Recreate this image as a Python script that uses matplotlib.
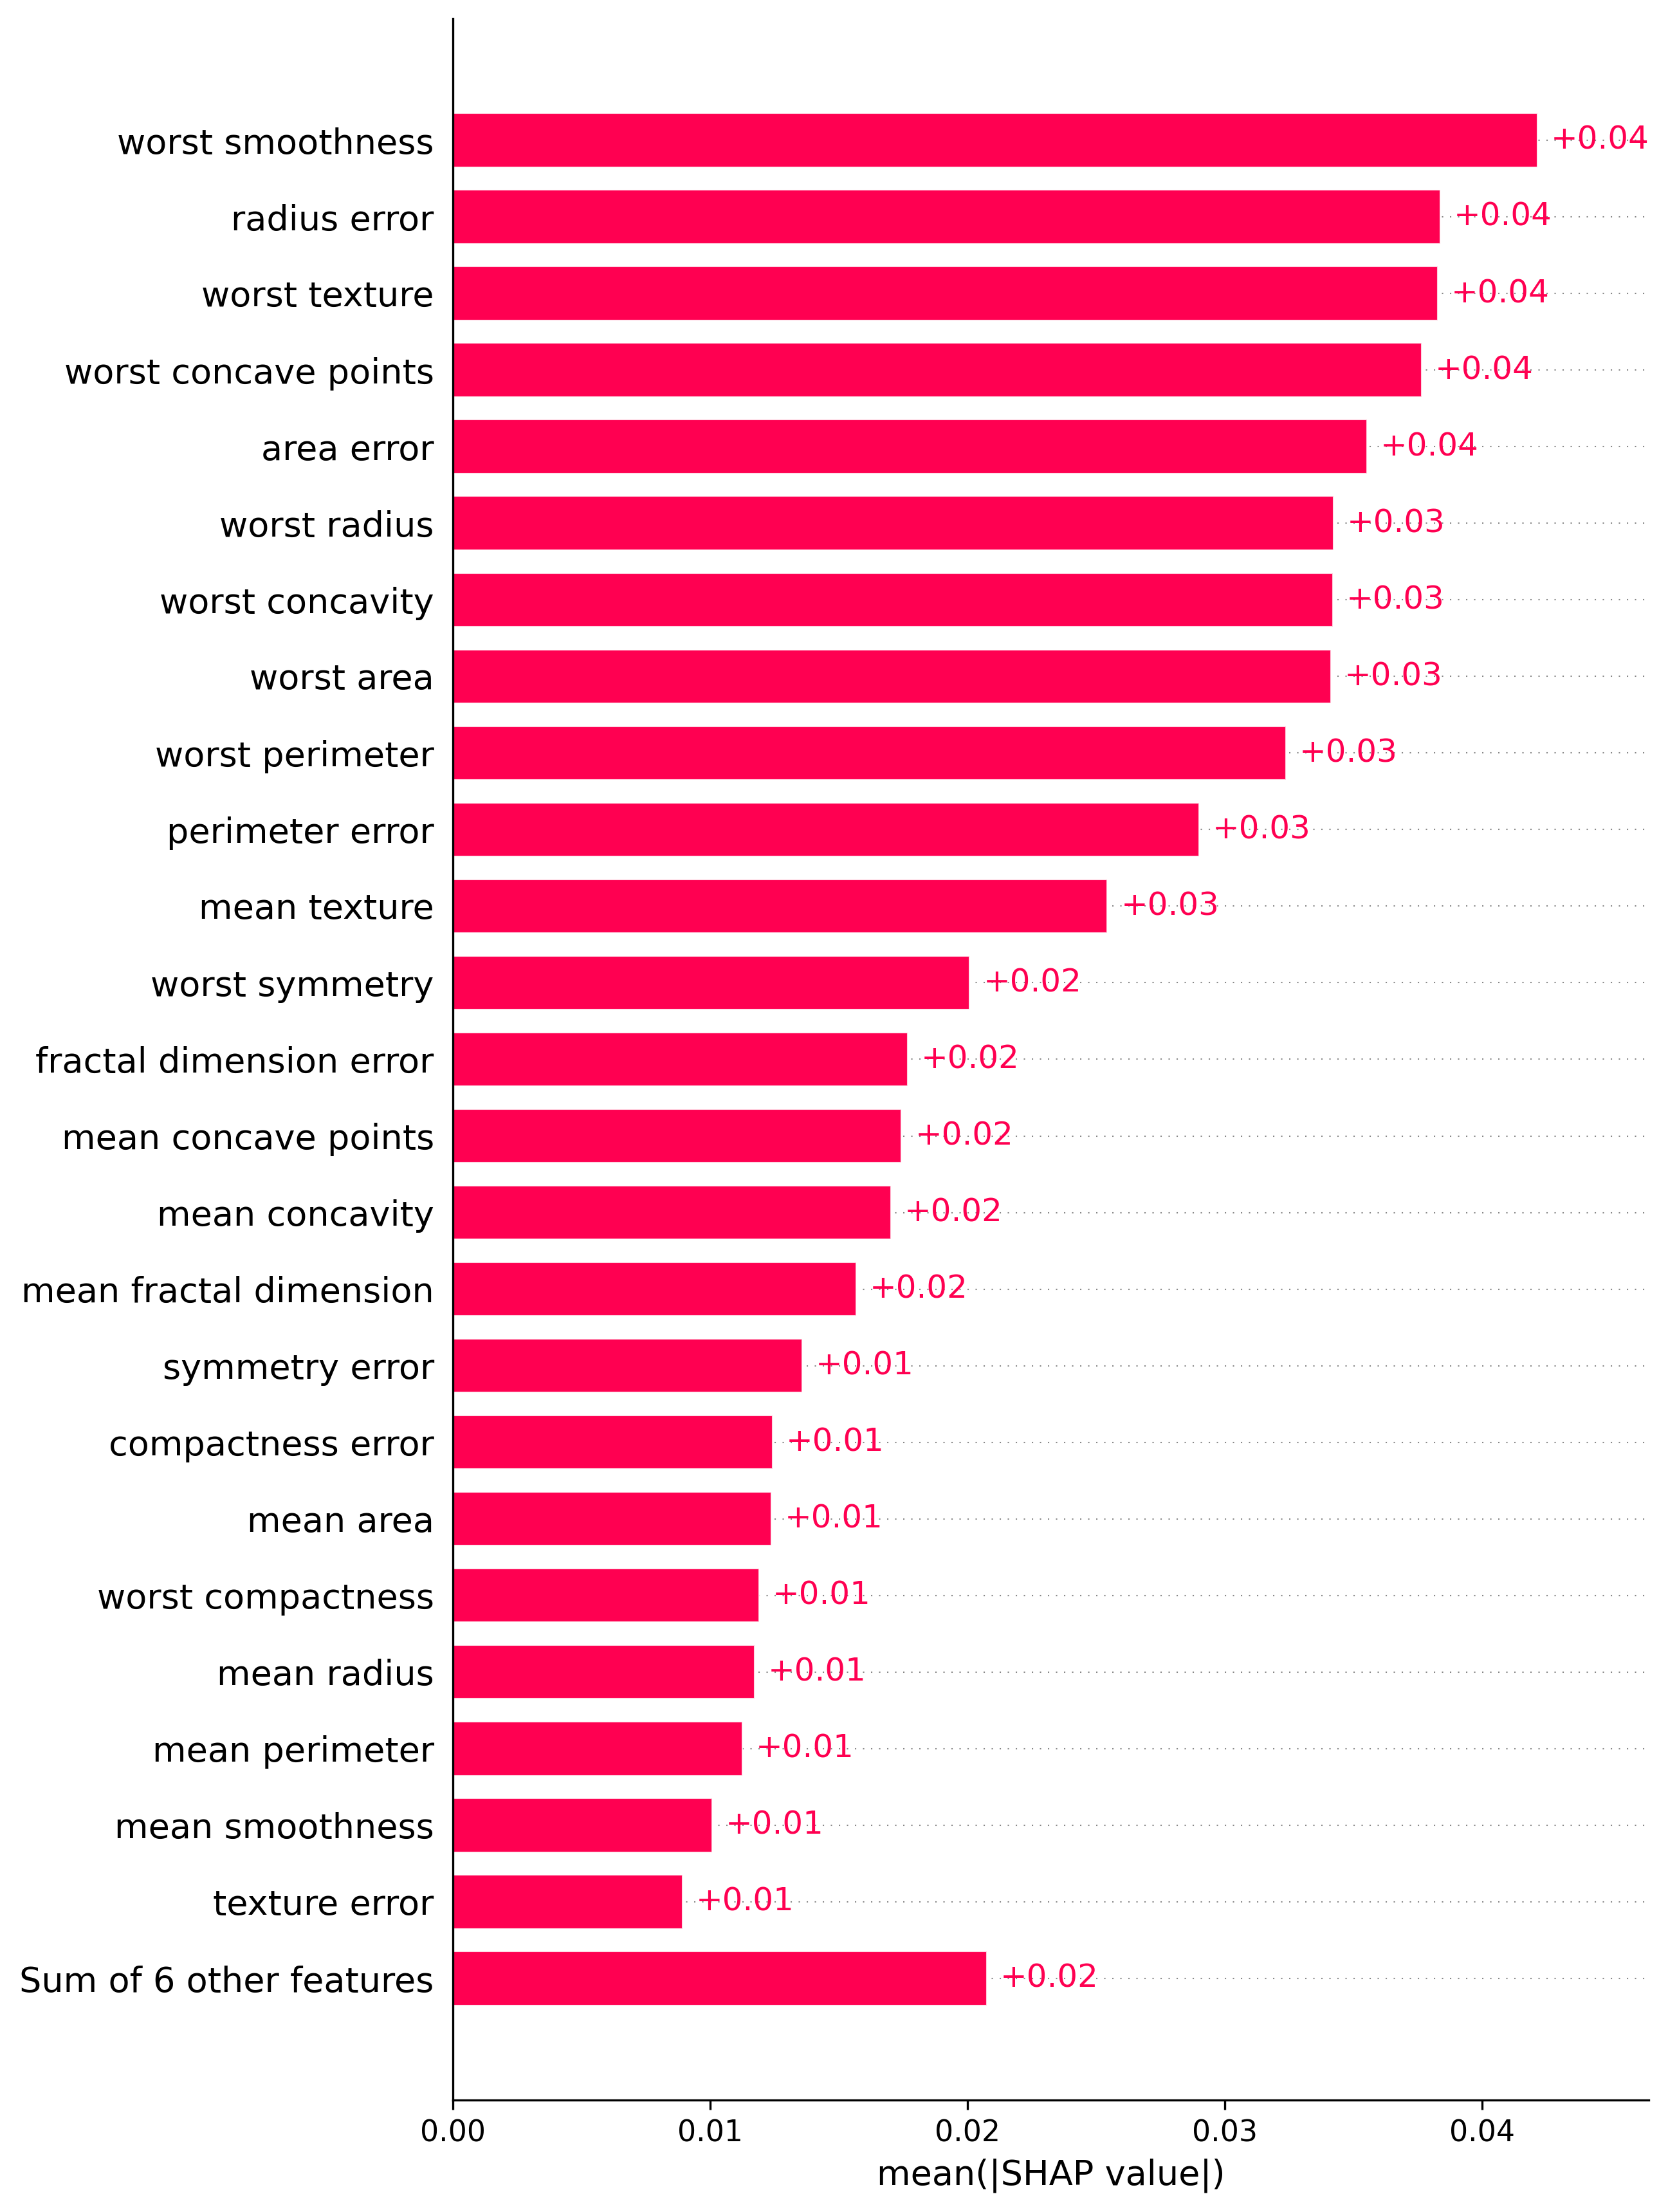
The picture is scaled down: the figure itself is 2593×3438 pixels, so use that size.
import numpy as np
import matplotlib
matplotlib.use("Agg")
import matplotlib.pyplot as plt
import matplotlib.transforms as transforms

features = ["worst smoothness", "radius error", "worst texture", "worst concave points",
            "area error", "worst radius", "worst concavity", "worst area",
            "worst perimeter", "perimeter error", "mean texture", "worst symmetry",
            "fractal dimension error", "mean concave points", "mean concavity",
            "mean fractal dimension", "symmetry error", "compactness error", "mean area",
            "worst compactness", "mean radius", "mean perimeter", "mean smoothness",
            "texture error", "Sum of 6 other features"]
mean_abs_shap = [0.04215, 0.03837, 0.03827, 0.03765,
                 0.03553, 0.03422, 0.03421, 0.03412,
                 0.03238, 0.02901, 0.02544, 0.02009,
                 0.01767, 0.01744, 0.01703,
                 0.01567, 0.01358, 0.01242, 0.01237,
                 0.01189, 0.01172, 0.01124, 0.01007,
                 0.00892, 0.02075]

red = "#ff0051"
dpi = 300
fig = plt.figure(figsize=(2593 / dpi, 3438 / dpi), dpi=dpi)
ax = fig.add_axes([0.2715, 0.0506, 0.9884 - 0.2715, 0.9916 - 0.0506])

y_pos = np.arange(len(features), 0, -1)
for y in y_pos:
    ax.axhline(y, color="#888888", lw=0.5, dashes=(1, 5), zorder=-1)

ax.barh(y_pos, mean_abs_shap, 0.7, align="center", color=red,
        edgecolor=(1, 1, 1, 0.8), linewidth=0.5)

# value labels offset 5 points right of each bar
offset = transforms.offset_copy(ax.transData, fig=fig, x=5, y=0, units="points")
for y, v in zip(y_pos, mean_abs_shap):
    ax.text(v, y, "%+0.02f" % v, transform=offset, ha="left", va="center",
            color=red, fontsize=12)

ax.set_yticks(y_pos)
ax.set_yticklabels(features, fontsize=13)
ax.set_ylim(-0.588, 26.588)
ax.set_xlim(0, 0.04648)
ax.set_xticks([0, 0.01, 0.02, 0.03, 0.04])
ax.set_xticklabels(["0.00", "0.01", "0.02", "0.03", "0.04"])
ax.tick_params("x", labelsize=11)
ax.xaxis.set_ticks_position("bottom")
ax.yaxis.set_ticks_position("none")
ax.spines["right"].set_visible(False)
ax.spines["top"].set_visible(False)
ax.set_xlabel("mean(|SHAP value|)", fontsize=13)

fig.savefig("out.png", dpi=dpi)
